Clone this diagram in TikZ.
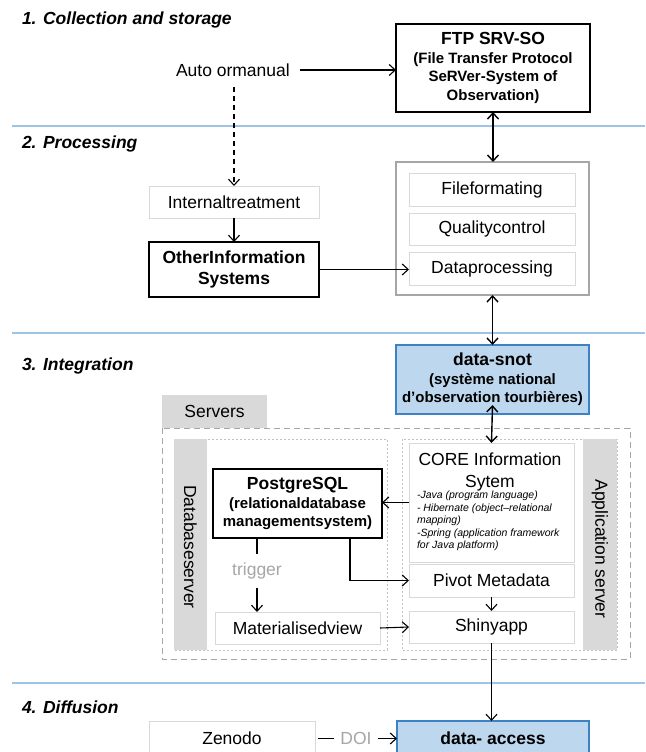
\documentclass[tikz,border=0pt]{standalone}
\usepackage{fontspec}
\setmainfont{Liberation Sans}
\usetikzlibrary{arrows.meta}
\definecolor{sepblue}{HTML}{9DC3E6}
\definecolor{boxblue}{HTML}{BDD7EE}
\definecolor{edgeblue}{HTML}{3C82C4}
\definecolor{lightline}{HTML}{D9D9D9}
\definecolor{midgray}{HTML}{A6A6A6}
\definecolor{stripgray}{HTML}{D9D9D9}
\begin{document}
\begin{tikzpicture}[x=1pt,y=-1pt,
    every node/.style={font=\fontsize{17.5}{20}\selectfont, inner sep=0pt, outer sep=0pt},
    >={Straight Barb[length=6pt,width=11pt]},
    conn/.style={line width=1.1pt},
    plainbox/.style={draw=lightline, line width=1pt, fill=white},
    sysbox/.style={draw=black, line width=1.6pt, fill=white, font=\bfseries\fontsize{15}{18.5}\selectfont, align=center},
    bluebox/.style={draw=edgeblue, line width=1.2pt, fill=boxblue, font=\bfseries\fontsize{15}{18.5}\selectfont, align=center},
    titletext/.style={anchor=west, font=\bfseries\itshape\fontsize{17.5}{20}\selectfont},
    sepline/.style={draw=sepblue, line width=1.2pt},
    stripbox/.style={fill=stripgray},
    serverdash/.style={draw=midgray, line width=1pt, dash pattern=on 6pt off 4pt},
    serverdot/.style={draw=midgray!70, line width=0.8pt, dash pattern=on 2pt off 2pt}]
  \useasboundingbox (0,0) rectangle (645,752);

  % Section separators
  \foreach \y in {126,333,683} {
    \draw[sepline] (12,\y) -- (645,\y);
  }

  % Section titles
  \node[titletext] (t1) at (22,20) {1. Collection and storage};
  \node[titletext] (t2) at (22,144) {2. Processing};
  \node[titletext] (t3) at (22,366) {3. Integration};
  \node[titletext] (t4) at (22,707) {4. Diffusion};

  % 1. Collection and storage
  \node[anchor=west] (auto) at (176,70) {Auto ormanual};
  \node[sysbox, minimum width=194pt, minimum height=88pt] (ftp) at (493,68)
    {{\fontsize{17.5}{18.5}\selectfont FTP SRV-SO}\\(File Transfer Protocol\\SeRVer-System of\\Observation)};

  % 2. Processing
  \node[plainbox, minimum width=170pt, minimum height=32pt] (internal) at (234,202) {Internaltreatment};
  \node[sysbox, minimum width=170pt, minimum height=55pt, font=\bfseries\fontsize{17.5}{21}\selectfont] (other) at (234,269.5) {OtherInformation\\Systems};
  \node[draw=midgray, line width=1.2pt, minimum width=193pt, minimum height=133pt] (proc) at (492.5,228.5) {};
  \node[plainbox, minimum width=166pt, minimum height=33pt] (filefmt) at (492,189.5) {Fileformating};
  \node[plainbox, minimum width=166pt, minimum height=32pt] (quality) at (492,229) {Qualitycontrol};
  \node[plainbox, minimum width=166pt, minimum height=33pt] (dataproc) at (492,268.5) {Dataprocessing};

  % 3. Integration
  \node[bluebox, minimum width=193pt, minimum height=69pt] (snot) at (492.5,379.5)
    {{\fontsize{17.5}{18.5}\selectfont data-snot}\\(système national\\d’observation tourbières)};
  \draw[serverdash] (162,428) rectangle (630,659);
  \node[stripbox, minimum width=105pt, minimum height=33pt] (servers) at (214.5,411.5) {Servers};
  \draw[serverdot] (174,439) rectangle (387,650);
  \draw[serverdot] (402,439) rectangle (617,650);
  \node[stripbox, minimum width=33pt, minimum height=211pt] (dbstrip) at (190.5,544.5) {};
  \node[stripbox, minimum width=34pt, minimum height=211pt] (appstrip) at (600,544.5) {};
  \node[rotate=-90] (dbtext) at (190.5,547) {Databaseserver};
  \node[rotate=-90] (apptext) at (600,549) {Application server};

  \node[plainbox, minimum width=165pt, minimum height=119pt] (core) at (491.5,502.5) {};
  \node[align=center, font=\fontsize{17.5}{22}\selectfont] (coretitle) at (490,472) {CORE Information\\Sytem};
  \node[anchor=north west, align=left, font=\itshape\fontsize{10.5}{12.5}\selectfont] (corelist) at (417,491)
    {-Java (program language)\\- Hibernate (object--relational\\mapping)\\-Spring (application framework\\for Java platform)};
  \node[plainbox, minimum width=165pt, minimum height=33pt] (pivot) at (491.5,580.5) {Pivot Metadata};
  \node[plainbox, minimum width=165pt, minimum height=32pt] (shiny) at (491.5,627) {Shinyapp};
  \node[sysbox, minimum width=169pt, minimum height=69pt] (postgres) at (297.5,503.5)
    {{\fontsize{17.5}{18.5}\selectfont PostgreSQL}\\(relationaldatabase\\managementsystem)};
  \node[text=midgray, inner ysep=9pt] (trig) at (257,571) {trigger};
  \node[plainbox, minimum width=165pt, minimum height=32pt] (matview) at (297.5,628) {Materialisedview};

  % 4. Diffusion
  \node[plainbox, minimum width=166pt, minimum height=35pt] (zenodo) at (232,738.5) {Zenodo};
  \node[bluebox, minimum width=192pt, minimum height=35pt, font=\bfseries\fontsize{17.5}{20}\selectfont] (access) at (493,738.5) {data- access};

  % Connectors
  \draw[conn,->,shorten <=10pt] (auto.east) -- (auto.east -| ftp.west);
  \draw[conn,->,dashed,dash pattern=on 5pt off 4pt,shorten <=11pt] (auto.south -| internal.north) -- (internal.north);
  \draw[conn,->] (internal.south) -- (other.north);
  \draw[conn,->] (other.east) -- (other.east -| dataproc.west);
  \draw[conn,<->,line width=1.4pt] (ftp.south) -- (ftp.south |- proc.north);
  \draw[conn,<->,line width=1.4pt] (proc.south) -- (proc.south |- snot.north);
  \draw[conn,<->,line width=1.4pt] ([yshift=9pt]snot.south) -- (core.north);
  \draw[conn,->] (core.west) -- (core.west -| postgres.east);
  \draw[conn,->] ([xshift=52.5pt]postgres.south) |- (pivot.west);
  \draw[conn] (postgres.south -| trig) -- (trig.north);
  \draw[conn,->] (trig.south) -- (trig.south |- matview.north);
  \draw[conn,->] (pivot.south) -- (shiny.north);
  \draw[conn,->] (matview.east) -- (shiny.west);
  \draw[conn,->] (shiny.south) -- (shiny.south |- access.north);
  \draw[conn,->,shorten <=3pt] (zenodo.east) -- node[fill=white, text=midgray, inner xsep=6pt, inner ysep=2pt] (doi) {DOI} (access.west);
\end{tikzpicture}
\end{document}
